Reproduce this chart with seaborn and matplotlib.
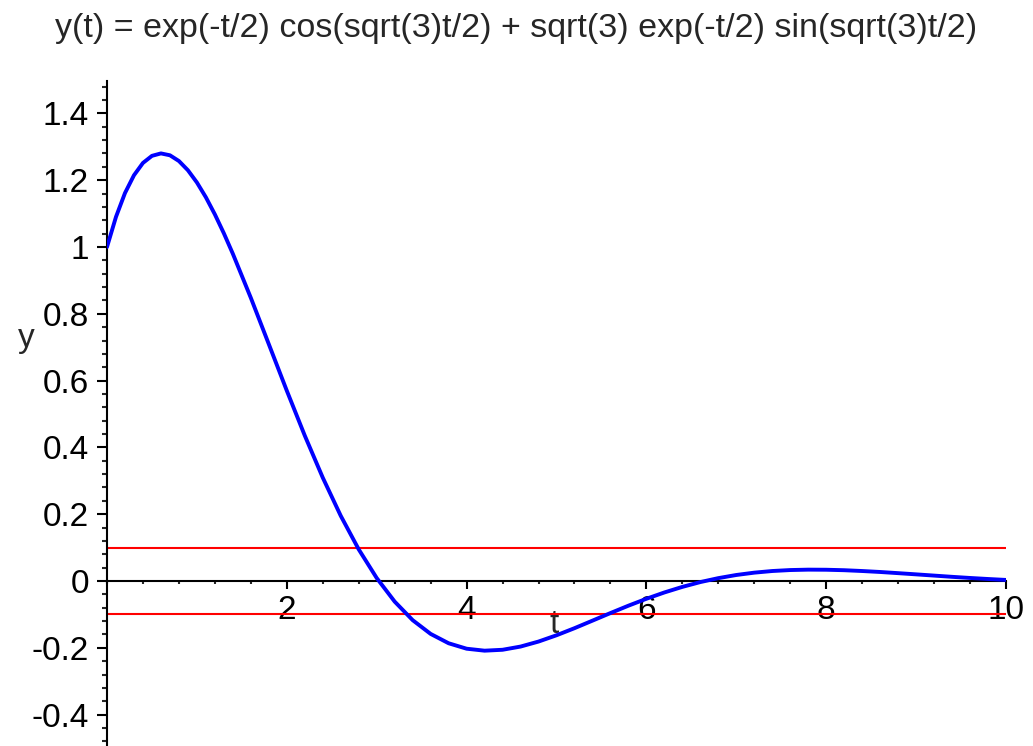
import numpy as np
import pandas as pd
import seaborn as sns
import matplotlib
matplotlib.use("Agg")
import matplotlib.pyplot as plt
from matplotlib.ticker import MultipleLocator, FuncFormatter

# values (denser near the peak)
t_vals = [0.0, 0.1, 0.2, 0.3, 0.4, 0.5, 0.6, 0.7, 0.8, 0.9,
          1.0, 1.1, 1.2, 1.3, 1.4, 1.6, 1.8,
          2.0, 2.2, 2.4, 2.6, 2.8, 3.0, 3.2, 3.4, 3.6, 3.8,
          4.0, 4.2, 4.4, 4.6, 4.8, 5.0, 5.2, 5.4, 5.6, 5.8,
          6.0, 6.2, 6.4, 6.6, 6.8, 7.0, 7.2, 7.4, 7.6, 7.8,
          8.0, 8.2, 8.4, 8.6, 8.8, 9.0, 9.2, 9.4, 9.6, 9.8, 10.0]
y_vals = [1.0, 1.0902, 1.1615, 1.2148, 1.2517, 1.2729, 1.2802, 1.2746, 1.2574, 1.2298,
          1.1932, 1.1488, 1.0976, 1.0409, 0.9796, 0.8477, 0.7090,
          0.5698, 0.4353, 0.3095, 0.1952, 0.0947, 0.0089, -0.0617, -0.1172, -0.1584, -0.1864,
          -0.2027, -0.2086, -0.2059, -0.1963, -0.1813, -0.1625, -0.1413, -0.1187, -0.0960, -0.0739,
          -0.0532, -0.0343, -0.0176, -0.0032, 0.0086, 0.0180, 0.0250, 0.0299, 0.0328, 0.0340,
          0.0337, 0.0323, 0.0299, 0.0270, 0.0235, 0.0199, 0.0162, 0.0125, 0.0091, 0.0060, 0.0032]
band_levels = [0.1, -0.1]
x_ticks = [2, 4, 6, 8, 10]
y_ticks = [-0.4, -0.2, 0, 0.2, 0.4, 0.6, 0.8, 1.0, 1.2, 1.4]
title = "y(t) = exp(-t/2) cos(sqrt(3)t/2) + sqrt(3) exp(-t/2) sin(sqrt(3)t/2)"

sns.set_style("ticks")
plt.rcParams["font.family"] = ["Liberation Sans", "DejaVu Sans"]
plt.rcParams["axes.unicode_minus"] = False

df = pd.DataFrame({"t": t_vals, "y": y_vals})

fig = plt.figure(figsize=(10.33, 7.46), dpi=100)
ax = fig.add_axes([107 / 1033, 0, 899 / 1033, 665 / 746])

for lev in band_levels:
    ax.axhline(lev, color="red", lw=1.5, zorder=1)
sns.lineplot(data=df, x="t", y="y", color="blue", lw=2.8, ax=ax, zorder=3)

ax.set_xlim(0, 10)
ax.set_ylim(-0.494, 1.497)

ax.spines["top"].set_visible(False)
ax.spines["right"].set_visible(False)
ax.spines["bottom"].set_position(("data", 0))
for s in ["left", "bottom"]:
    ax.spines[s].set_linewidth(1.5)
    ax.spines[s].set_color("black")

ax.set_xticks(x_ticks)
ax.set_yticks(y_ticks)
ax.xaxis.set_minor_locator(MultipleLocator(0.4))
ax.yaxis.set_minor_locator(MultipleLocator(0.04))
fmt = FuncFormatter(lambda v, p: f"{v:g}")
ax.xaxis.set_major_formatter(fmt)
ax.yaxis.set_major_formatter(fmt)

ax.tick_params(axis="y", which="major", length=7, width=1.5, pad=6, labelsize=24, colors="black")
ax.tick_params(axis="y", which="minor", length=3.5, width=1.5)
ax.tick_params(axis="x", which="major", length=6, width=1.5, pad=4, labelsize=24, colors="black")
ax.tick_params(axis="x", which="minor", length=2.5, width=1.5)

ax.set_xlabel("t", fontsize=24)
ax.xaxis.label.set_va("center")
ax.xaxis.set_label_coords(0.497, 0.182)
ax.set_ylabel("y", fontsize=24, rotation=0, va="center", ha="center")
ax.yaxis.set_label_coords(-0.090, 0.6135)

fig.text(0.5, 1 - 28 / 746, title, ha="center", va="center", fontsize=24.5)

fig.savefig("out.png", dpi=100)
